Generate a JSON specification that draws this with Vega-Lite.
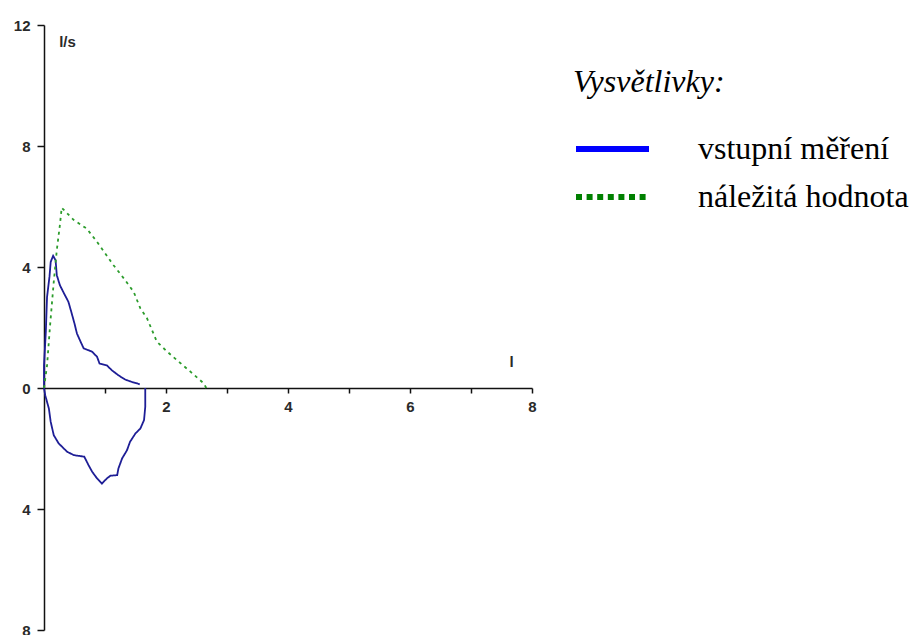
{
  "$schema": "https://vega.github.io/schema/vega-lite/v6.json",
  "width": 488,
  "height": 605,
  "autosize": "none",
  "padding": {"left": 44, "top": 25, "right": 378, "bottom": 5},
  "background": "white",
  "config": {
    "view": {"stroke": null},
    "axis": {
      "grid": false,
      "labelFont": "Liberation Sans",
      "labelFontSize": 15,
      "labelFontWeight": "bold",
      "labelColor": "#2a2a2a",
      "domainColor": "#111111",
      "tickColor": "#111111",
      "domainWidth": 1.5,
      "tickWidth": 1.5,
      "titleFont": "Liberation Sans",
      "titleFontSize": 15,
      "titleFontWeight": "bold",
      "titleColor": "#2a2a2a"
    }
  },
  "data": {
    "values": [
      {"series": "vstupní měření", "part": "exp", "i": 1, "volume": 0, "flow": 0},
      {"series": "vstupní měření", "part": "exp", "i": 2, "volume": 0, "flow": 0.75},
      {"series": "vstupní měření", "part": "exp", "i": 3, "volume": 0.03, "flow": 1.86},
      {"series": "vstupní měření", "part": "exp", "i": 4, "volume": 0.05, "flow": 3.01},
      {"series": "vstupní měření", "part": "exp", "i": 5, "volume": 0.09, "flow": 3.68},
      {"series": "vstupní měření", "part": "exp", "i": 6, "volume": 0.11, "flow": 4.17},
      {"series": "vstupní měření", "part": "exp", "i": 7, "volume": 0.15, "flow": 4.37},
      {"series": "vstupní měření", "part": "exp", "i": 8, "volume": 0.19, "flow": 4.22},
      {"series": "vstupní měření", "part": "exp", "i": 9, "volume": 0.21, "flow": 3.73},
      {"series": "vstupní měření", "part": "exp", "i": 10, "volume": 0.26, "flow": 3.4},
      {"series": "vstupní měření", "part": "exp", "i": 11, "volume": 0.33, "flow": 3.12},
      {"series": "vstupní měření", "part": "exp", "i": 12, "volume": 0.4, "flow": 2.85},
      {"series": "vstupní měření", "part": "exp", "i": 13, "volume": 0.44, "flow": 2.57},
      {"series": "vstupní měření", "part": "exp", "i": 14, "volume": 0.5, "flow": 2.13},
      {"series": "vstupní měření", "part": "exp", "i": 15, "volume": 0.54, "flow": 1.8},
      {"series": "vstupní měření", "part": "exp", "i": 16, "volume": 0.6, "flow": 1.53},
      {"series": "vstupní měření", "part": "exp", "i": 17, "volume": 0.65, "flow": 1.31},
      {"series": "vstupní měření", "part": "exp", "i": 18, "volume": 0.79, "flow": 1.2},
      {"series": "vstupní měření", "part": "exp", "i": 19, "volume": 0.87, "flow": 1.03},
      {"series": "vstupní měření", "part": "exp", "i": 20, "volume": 0.91, "flow": 0.81},
      {"series": "vstupní měření", "part": "exp", "i": 21, "volume": 1.03, "flow": 0.75},
      {"series": "vstupní měření", "part": "exp", "i": 22, "volume": 1.11, "flow": 0.59},
      {"series": "vstupní měření", "part": "exp", "i": 23, "volume": 1.22, "flow": 0.42},
      {"series": "vstupní měření", "part": "exp", "i": 24, "volume": 1.33, "flow": 0.28},
      {"series": "vstupní měření", "part": "exp", "i": 25, "volume": 1.44, "flow": 0.2},
      {"series": "vstupní měření", "part": "exp", "i": 26, "volume": 1.53, "flow": 0.15},
      {"series": "vstupní měření", "part": "exp", "i": 27, "volume": 1.57, "flow": 0.12},

      {"series": "vstupní měření", "part": "insp", "i": 1, "volume": 1.66, "flow": 0},
      {"series": "vstupní měření", "part": "insp", "i": 2, "volume": 1.66, "flow": -0.62},
      {"series": "vstupní měření", "part": "insp", "i": 3, "volume": 1.64, "flow": -1.06},
      {"series": "vstupní měření", "part": "insp", "i": 4, "volume": 1.58, "flow": -1.34},
      {"series": "vstupní měření", "part": "insp", "i": 5, "volume": 1.5, "flow": -1.5},
      {"series": "vstupní měření", "part": "insp", "i": 6, "volume": 1.41, "flow": -1.78},
      {"series": "vstupní měření", "part": "insp", "i": 7, "volume": 1.36, "flow": -2.06},
      {"series": "vstupní měření", "part": "insp", "i": 8, "volume": 1.28, "flow": -2.33},
      {"series": "vstupní měření", "part": "insp", "i": 9, "volume": 1.22, "flow": -2.66},
      {"series": "vstupní měření", "part": "insp", "i": 10, "volume": 1.2, "flow": -2.88},
      {"series": "vstupní měření", "part": "insp", "i": 11, "volume": 1.09, "flow": -2.9},
      {"series": "vstupní měření", "part": "insp", "i": 12, "volume": 1.03, "flow": -2.99},
      {"series": "vstupní měření", "part": "insp", "i": 13, "volume": 0.95, "flow": -3.16},
      {"series": "vstupní měření", "part": "insp", "i": 14, "volume": 0.87, "flow": -2.99},
      {"series": "vstupní měření", "part": "insp", "i": 15, "volume": 0.79, "flow": -2.77},
      {"series": "vstupní měření", "part": "insp", "i": 16, "volume": 0.73, "flow": -2.55},
      {"series": "vstupní měření", "part": "insp", "i": 17, "volume": 0.66, "flow": -2.27},
      {"series": "vstupní měření", "part": "insp", "i": 18, "volume": 0.49, "flow": -2.22},
      {"series": "vstupní měření", "part": "insp", "i": 19, "volume": 0.38, "flow": -2.11},
      {"series": "vstupní měření", "part": "insp", "i": 20, "volume": 0.24, "flow": -1.83},
      {"series": "vstupní měření", "part": "insp", "i": 21, "volume": 0.16, "flow": -1.56},
      {"series": "vstupní měření", "part": "insp", "i": 22, "volume": 0.11, "flow": -1.12},
      {"series": "vstupní měření", "part": "insp", "i": 23, "volume": 0.08, "flow": -0.68},
      {"series": "vstupní měření", "part": "insp", "i": 24, "volume": 0.02, "flow": -0.24},
      {"series": "vstupní měření", "part": "insp", "i": 25, "volume": 0, "flow": 0},

      {"series": "náležitá hodnota", "part": "pred", "i": 1, "volume": 0, "flow": 0},
      {"series": "náležitá hodnota", "part": "pred", "i": 2, "volume": 0.05, "flow": 0.75},
      {"series": "náležitá hodnota", "part": "pred", "i": 3, "volume": 0.1, "flow": 2.08},
      {"series": "náležitá hodnota", "part": "pred", "i": 4, "volume": 0.16, "flow": 3.51},
      {"series": "náležitá hodnota", "part": "pred", "i": 5, "volume": 0.21, "flow": 4.56},
      {"series": "náležitá hodnota", "part": "pred", "i": 6, "volume": 0.26, "flow": 5.38},
      {"series": "náležitá hodnota", "part": "pred", "i": 7, "volume": 0.29, "flow": 5.96},
      {"series": "náležitá hodnota", "part": "pred", "i": 8, "volume": 0.49, "flow": 5.55},
      {"series": "náležitá hodnota", "part": "pred", "i": 9, "volume": 0.7, "flow": 5.27},
      {"series": "náležitá hodnota", "part": "pred", "i": 10, "volume": 0.87, "flow": 4.83},
      {"series": "náležitá hodnota", "part": "pred", "i": 11, "volume": 1.14, "flow": 4.06},
      {"series": "náležitá hodnota", "part": "pred", "i": 12, "volume": 1.31, "flow": 3.62},
      {"series": "náležitá hodnota", "part": "pred", "i": 13, "volume": 1.47, "flow": 3.18},
      {"series": "náležitá hodnota", "part": "pred", "i": 14, "volume": 1.58, "flow": 2.63},
      {"series": "náležitá hodnota", "part": "pred", "i": 15, "volume": 1.69, "flow": 2.3},
      {"series": "náležitá hodnota", "part": "pred", "i": 16, "volume": 1.85, "flow": 1.53},
      {"series": "náležitá hodnota", "part": "pred", "i": 17, "volume": 2.02, "flow": 1.2},
      {"series": "náležitá hodnota", "part": "pred", "i": 18, "volume": 2.18, "flow": 0.92},
      {"series": "náležitá hodnota", "part": "pred", "i": 19, "volume": 2.4, "flow": 0.54},
      {"series": "náležitá hodnota", "part": "pred", "i": 20, "volume": 2.62, "flow": 0.15},
      {"series": "náležitá hodnota", "part": "pred", "i": 21, "volume": 2.66, "flow": 0}
    ]
  },
  "encoding": {
    "x": {
      "field": "volume",
      "type": "quantitative",
      "scale": {"domain": [0, 8], "nice": false, "zero": false},
      "axis": {
        "orient": "bottom",
        "offset": -242,
        "values": [1, 2, 3, 4, 5, 6, 7, 8],
        "labelExpr": "datum.value % 2 === 0 ? datum.label : ''",
        "labelFontSize": 15,
        "labelFontWeight": "bold",
        "tickSize": 5,
        "labelPadding": 6,
        "labelFlush": false,
        "title": "l",
        "titleAngle": 0,
        "titleX": 467,
        "titleY": -22,
        "titleAlign": "center",
        "titleBaseline": "alphabetic"
      }
    },
    "y": {
      "field": "flow",
      "type": "quantitative",
      "scale": {"domain": [-8, 12], "nice": false, "zero": false},
      "axis": {
        "values": [-8, -4, 0, 4, 8, 12],
        "labelExpr": "'' + abs(datum.value)",
        "labelFontSize": 15,
        "labelFontWeight": "bold",
        "tickSize": 7,
        "labelPadding": 7,
        "labelFlush": false,
        "title": "l/s",
        "titleAngle": 0,
        "titleX": 23,
        "titleY": 16,
        "titleAlign": "center",
        "titleBaseline": "middle"
      }
    }
  },
  "layer": [
    {
      "mark": {"type": "line", "strokeWidth": 1.8, "clip": false},
      "encoding": {
        "color": {
          "field": "series",
          "type": "nominal",
          "scale": {
            "domain": ["vstupní měření", "náležitá hodnota"],
            "range": ["#1e1e96", "#2c9c2c"]
          },
          "legend": null
        },
        "strokeDash": {
          "field": "series",
          "type": "nominal",
          "scale": {
            "domain": ["vstupní měření", "náležitá hodnota"],
            "range": [[1, 0], [3, 4]]
          },
          "legend": null
        },
        "detail": {"field": "part", "type": "nominal"},
        "order": {"field": "i", "type": "quantitative"}
      }
    },
    {
      "transform": [{"filter": "false"}],
      "mark": {"type": "line", "strokeWidth": 6},
      "encoding": {
        "color": {
          "field": "series",
          "type": "nominal",
          "scale": {
            "domain": ["vstupní měření", "náležitá hodnota"],
            "range": ["#0000ff", "#008000"]
          },
          "legend": {
            "orient": "none",
            "legendX": 529,
            "legendY": 42,
            "title": "Vysvětlivky:",
            "titleFont": "Liberation Serif",
            "titleFontStyle": "italic",
            "titleFontWeight": "normal",
            "titleFontSize": 32,
            "titleColor": "black",
            "titlePadding": 26,
            "labelFont": "Liberation Serif",
            "labelFontSize": 32,
            "labelColor": "black",
            "labelLimit": 400,
            "labelOffset": 46,
            "symbolType": "stroke",
            "symbolSize": 5329,
            "symbolStrokeWidth": 6,
            "clipHeight": 48,
            "rowPadding": 0
          }
        },
        "strokeDash": {
          "field": "series",
          "type": "nominal",
          "scale": {
            "domain": ["vstupní měření", "náležitá hodnota"],
            "range": [[1, 0], [6, 4.6]]
          },
          "legend": {
            "orient": "none",
            "legendX": 529,
            "legendY": 42,
            "title": "Vysvětlivky:",
            "titleFont": "Liberation Serif",
            "titleFontStyle": "italic",
            "titleFontWeight": "normal",
            "titleFontSize": 32,
            "titleColor": "black",
            "titlePadding": 26,
            "labelFont": "Liberation Serif",
            "labelFontSize": 32,
            "labelColor": "black",
            "labelLimit": 400,
            "labelOffset": 46,
            "symbolType": "stroke",
            "symbolSize": 5329,
            "symbolStrokeWidth": 6,
            "clipHeight": 48,
            "rowPadding": 0
          }
        }
      }
    }
  ],
  "resolve": {
    "scale": {"color": "independent", "strokeDash": "independent"},
    "legend": {"color": "independent", "strokeDash": "independent"}
  }
}
